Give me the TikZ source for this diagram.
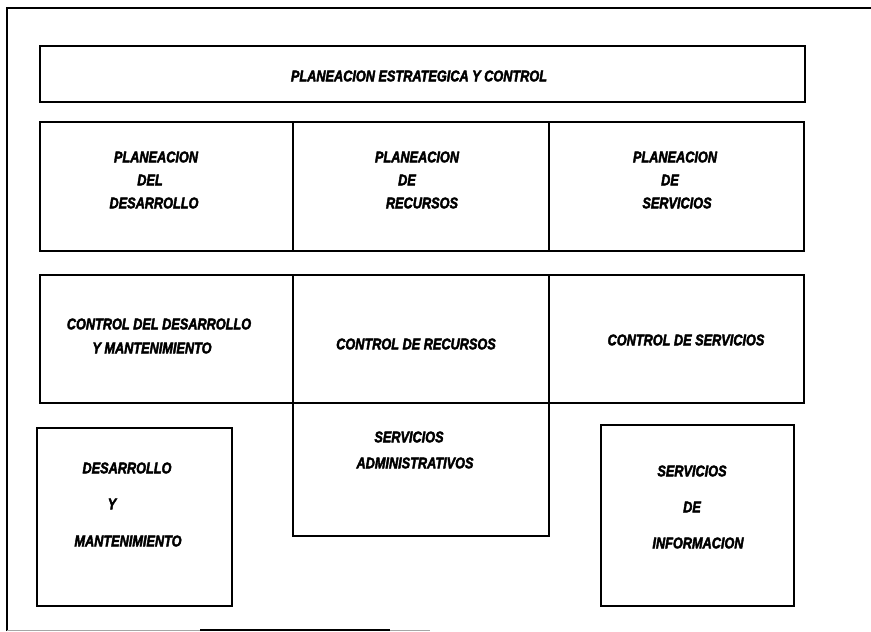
\documentclass[tikz,border=0pt]{standalone}
\usepackage{fontspec}
\newfontfamily\lblfont[FakeStretch=0.82,FakeBold=2.6]{Liberation Sans}
\begin{document}
\begin{tikzpicture}[x=1pt,y=-1pt,
  box/.style={draw, line width=1.2pt, inner sep=0pt, outer sep=0pt, anchor=north west},
  lbl/.style={inner sep=0pt, font={\lblfont\bfseries\itshape\fontsize{15.5}{17}\selectfont}},
  frame/.style={line width=1.2pt}]
\useasboundingbox (0,0) rectangle (871,632);
% outer frame
\coordinate (fTL) at (7,8);
\coordinate (fTR) at (871,8);
\coordinate (fBL) at (7,631);
\coordinate (bA) at (7,630);
\coordinate (bB) at (200,630);
\coordinate (bC) at (390,630);
\coordinate (bD) at (430,630);
\draw[frame] (fBL) -- (fTL) -- (fTR);
\draw[line width=1pt, black!35] (bA) -- (bB);
\draw[line width=1.2pt] (bB) -- (bC);
\draw[line width=1pt, black!35] (bC) -- (bD);
% boxes
\node[box, minimum width=765pt, minimum height=56pt] (top) at (40,46) {};
\node[box, minimum width=253pt, minimum height=129pt] (p1) at (40,122) {};
\node[box, minimum width=256pt, minimum height=129pt] (p2) at (293,122) {};
\node[box, minimum width=255pt, minimum height=129pt] (p3) at (549,122) {};
\node[box, minimum width=253pt, minimum height=128pt] (c1) at (40,275) {};
\node[box, minimum width=256pt, minimum height=128pt] (c2) at (293,275) {};
\node[box, minimum width=255pt, minimum height=128pt] (c3) at (549,275) {};
\node[box, minimum width=256pt, minimum height=133pt] (adm) at (293,403) {};
\node[box, minimum width=195pt, minimum height=178pt] (dm) at (37,428) {};
\node[box, minimum width=193pt, minimum height=181pt] (inf) at (601,425) {};
% labels
\node[lbl] (tTop) at (419,76) {PLANEACION ESTRATEGICA Y CONTROL};
\node[lbl] (tP1a) at (156,157) {PLANEACION};
\node[lbl] (tP1b) at (150,180) {DEL};
\node[lbl] (tP1c) at (154,203) {DESARROLLO};
\node[lbl] (tP2a) at (417,157) {PLANEACION};
\node[lbl] (tP2b) at (407,180) {DE};
\node[lbl] (tP2c) at (422,203) {RECURSOS};
\node[lbl] (tP3a) at (675,157) {PLANEACION};
\node[lbl] (tP3b) at (670,180) {DE};
\node[lbl] (tP3c) at (677,203) {SERVICIOS};
\node[lbl] (tC1a) at (159,324) {CONTROL DEL DESARROLLO};
\node[lbl] (tC1b) at (152,348) {Y MANTENIMIENTO};
\node[lbl] (tC2) at (416,344) {CONTROL DE RECURSOS};
\node[lbl] (tC3) at (686,340) {CONTROL DE SERVICIOS};
\node[lbl] (tAa) at (409,437) {SERVICIOS};
\node[lbl] (tAb) at (415,463) {ADMINISTRATIVOS};
\node[lbl] (tDa) at (127,468) {DESARROLLO};
\node[lbl] (tDb) at (112,504) {Y};
\node[lbl] (tDc) at (128,541) {MANTENIMIENTO};
\node[lbl] (tIa) at (692,471) {SERVICIOS};
\node[lbl] (tIb) at (692,507) {DE};
\node[lbl] (tIc) at (698,543) {INFORMACION};
\end{tikzpicture}
\end{document}
